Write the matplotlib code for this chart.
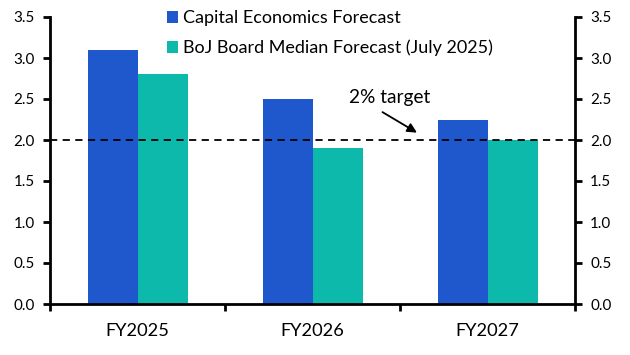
import matplotlib
matplotlib.use("Agg")
import matplotlib.pyplot as plt
import numpy as np

categories = ["FY2025", "FY2026", "FY2027"]
ce_forecast = [3.1, 2.5, 2.25]
boj_forecast = [2.8, 1.9, 2.0]
series_labels = ["Capital Economics Forecast", "BoJ Board Median Forecast (July 2025)"]
target = 2.0
yticks = [0.0, 0.5, 1.0, 1.5, 2.0, 2.5, 3.0, 3.5]

plt.rcParams['font.family'] = ['Lato', 'DejaVu Sans']

W, H = 630, 355
fig = plt.figure(figsize=(W/100, H/100), dpi=100)
ax = fig.add_axes([50/W, 1-304/H, 525/W, 287/H])

x = np.arange(len(categories))
w = 50/175
blue = "#1F57CC"
teal = "#0DB9AB"
ax.bar(x - w/2, ce_forecast, width=w, color=blue, label=series_labels[0])
ax.bar(x + w/2, boj_forecast, width=w, color=teal, label=series_labels[1])

ax.axhline(target, color="black", linestyle=(0, (4, 3)), linewidth=1.3)
ann = ax.text(1.443, 2.52, "2% target", ha="center", va="center", fontsize=12)
ax.annotate("", xy=(1.597, 2.09), xytext=(1.40, 2.34),
            arrowprops=dict(arrowstyle="-|>", color="black", lw=1.3, mutation_scale=14,
                            shrinkA=0, shrinkB=0))

ax.set_xlim(-0.5, 2.5)
ax.set_ylim(0, 3.5)
ax.set_yticks(yticks)
ax.set_yticklabels([f"{v:.1f}" for v in yticks])
ax.set_xticks([-0.5, 0.5, 1.5, 2.5])
ax.set_xticklabels([])
ax.set_xticks(x, minor=True)
ax.set_xticklabels(categories, minor=True)
ax.tick_params(axis="x", which="minor", length=0, pad=14, labelsize=12)
ax.tick_params(axis="x", which="major", length=5, width=2, direction="out")
ax.tick_params(axis="y", length=5, width=2, direction="out", labelsize=12, pad=6,
               left=True, right=True, labelleft=True, labelright=True)

ax.spines["top"].set_visible(False)
for s in ["left", "right", "bottom"]:
    ax.spines[s].set_linewidth(2)

fig.canvas.draw()
r = fig.canvas.get_renderer()

def width_px(t):
    return t.get_window_extent(renderer=r).width

# fit font sizes to the reference pixel widths
ylab = ax.get_yticklabels()[-1]
ysize = 12 * 21 / width_px(ylab)
xlab = ax.get_xticklabels(minor=True)[0]
xsize = 12 * 64 / width_px(xlab)
asize = 12 * 81 / width_px(ann)
ax.tick_params(axis="y", labelsize=ysize)
ax.tick_params(axis="x", which="minor", labelsize=xsize)
ann.set_fontsize(asize)

tmp = fig.text(0, 0, series_labels[1], fontsize=12)
lsize = 12 * 310 / width_px(tmp)
tmp.remove()

fs_px = lsize * 100 / 72
leg = ax.legend(loc="upper left", bbox_to_anchor=(0.2, 1.0), frameon=False,
                fontsize=lsize, handlelength=11/fs_px, handleheight=11/fs_px,
                handletextpad=5/fs_px, labelspacing=0.5, borderaxespad=0, borderpad=0)
fig.canvas.draw()
h0 = leg.legend_handles[0].get_window_extent(renderer=r)
h1 = leg.legend_handles[1].get_window_extent(renderer=r)
gap = (h0.y0 + h0.y1)/2 - (h1.y0 + h1.y1)/2
leg.remove()
leg = ax.legend(loc="upper left", bbox_to_anchor=(0.2, 1.0), frameon=False,
                fontsize=lsize, handlelength=11/fs_px, handleheight=11/fs_px,
                handletextpad=5/fs_px, labelspacing=0.5 + (30 - gap) / fs_px,
                borderaxespad=0, borderpad=0)
fig.canvas.draw()
h0 = leg.legend_handles[0].get_window_extent(renderer=r)
dx = 167 - h0.x0
dy = (H - 17) - (h0.y0 + h0.y1)/2
axb = ax.get_window_extent(renderer=r)
leg.set_bbox_to_anchor((0.2 + dx/axb.width, 1.0 + dy/axb.height), transform=ax.transAxes)

fig.savefig("out.png", dpi=100)
